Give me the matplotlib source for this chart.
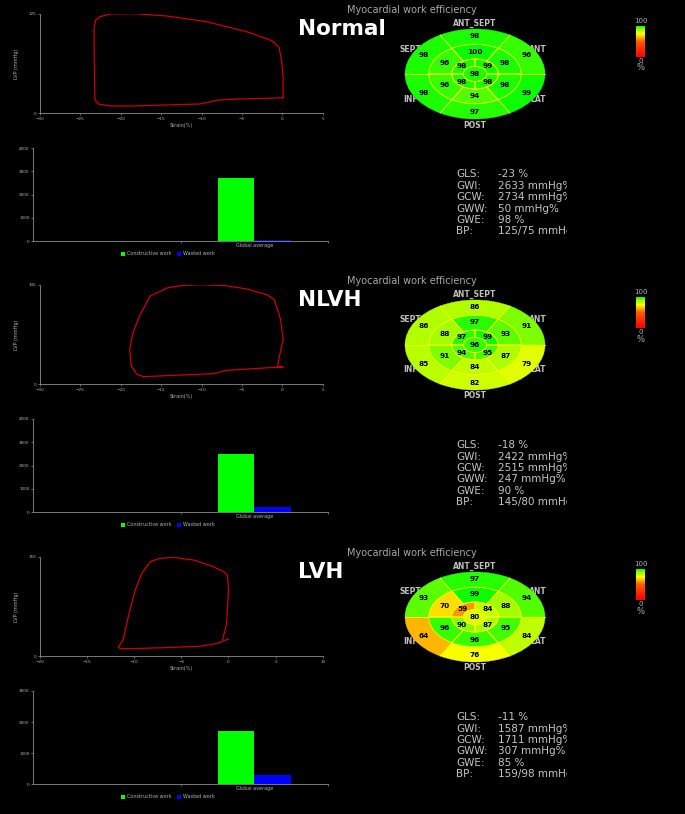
import numpy as np
import matplotlib
matplotlib.use("Agg")
import matplotlib.pyplot as plt
from matplotlib.patches import Wedge, Circle
from matplotlib.colors import LinearSegmentedColormap, Normalize
from matplotlib.cm import ScalarMappable
from matplotlib.transforms import Bbox, TransformedBbox

W, H = 685, 814

groups = ["Normal", "NLVH", "LVH"]

# pressure-strain loops (strain %, LVP mmHg)
normal_strain = [0.1, 0.1, 0.1, -0.1, -0.4, -1.1, -1.7, -4.4, -9.4, -14.3, -18.4, -21.3, -22.6, -23.1,
                 -23.3, -23.3, -23.2, -22.8, -21.3, -18.4, -14.3, -10.2, -9.0, -7.9, -5.2, -1.9, 0.1]
normal_lvp = [19.6, 33.4, 46.0, 66.9, 82.4, 89.9, 92.8, 102.4, 115.0, 122.1, 125.0, 124.6, 121.2, 117.1,
              108.7, 79.4, 16.7, 11.7, 9.2, 9.2, 10.5, 11.7, 14.2, 16.7, 18.0, 18.8, 19.6]
nlvh_strain = [0.1, -0.6, -0.4, 0.1, -0.2, -1.0, -1.9, -4.4, -6.9, -10.2, -12.7, -14.3, -16.4, -17.7,
               -18.5, -18.9, -18.7, -18.0, -17.2, -13.5, -8.5, -6.9, -3.6, 0.1]
nlvh_lvp = [25.6, 24.6, 38.7, 65.2, 94.2, 123.2, 130.5, 138.7, 143.5, 145.0, 143.5, 140.2, 128.1, 99.1,
            74.9, 50.7, 26.6, 14.5, 11.1, 13.0, 15.5, 20.3, 22.7, 25.6]
lvh_strain = [-0.6, -0.2, 0.0, -0.1, -0.5, -1.6, -3.7, -5.9, -7.3, -8.3, -9.2, -9.9, -10.6, -11.2,
              -11.7, -11.5, -10.1, -6.6, -3.0, -1.3, 0.0]
lvh_lvp = [25.2, 49.3, 99.6, 122.3, 127.3, 134.9, 145.0, 149.0, 147.5, 142.4, 124.8, 99.6, 61.9, 24.2,
           14.1, 11.6, 11.6, 13.1, 15.1, 19.1, 26.2]
loop_strain = [normal_strain, nlvh_strain, lvh_strain]
loop_lvp = [normal_lvp, nlvh_lvp, lvh_lvp]
loop_xlim = [(-30, 5), (-30, 5), (-20, 10)]
loop_ymax = [125, 145, 150]

# global constructive / wasted work (mmHg%)
constructive = [2734, 2515, 1711]
wasted = [50, 247, 307]
bar_ymax = [4000, 4000, 3000]

# bullseye work efficiency (%)
# basal/mid order: ANT_SEPT, ANT, LAT, POST, INF, SEPT ; apical: ant-lat, inf-lat, inf-sept, ant-sept
basal = [[98, 96, 99, 97, 98, 98], [86, 91, 79, 82, 85, 86], [97, 94, 84, 76, 64, 93]]
mid = [[100, 98, 98, 94, 96, 96], [97, 93, 87, 84, 91, 88], [99, 88, 95, 96, 96, 70]]
apical = [[99, 98, 98, 98], [99, 95, 94, 97], [84, 87, 90, 59]]
apex = [98, 96, 80]

stat_names = ["GLS:", "GWI:", "GCW:", "GWW:", "GWE:", "BP:"]
stat_values = [
    ["-23 %", "2633 mmHg%", "2734 mmHg%", "50 mmHg%", "98 %", "125/75 mmHg"],
    ["-18 %", "2422 mmHg%", "2515 mmHg%", "247 mmHg%", "90 %", "145/80 mmHg"],
    ["-11 %", "1587 mmHg%", "1711 mmHg%", "307 mmHg%", "85 %", "159/98 mmHg"],
]

offsets = [0, 271, 543]

cmap = LinearSegmentedColormap.from_list(
    "we", [(0.0, (1, 0, 0)), (0.5, (1, 0.35, 0)), (0.75, (1, 1, 0)),
           (0.88, (0.65, 1, 0)), (1.0, (0, 1, 0))])
norm = Normalize(0, 100)

AX = "#8c8c8c"
TXT = "#b4b4b4"


def box(x0, y0, x1, y1):
    return [x0 / W, 1 - y1 / H, (x1 - x0) / W, (y1 - y0) / H]


def ftext(x, y, s, **kw):
    return fig.text(x / W, 1 - y / H, s, **kw)


def style(ax):
    ax.set_facecolor("black")
    for s in ["top", "right"]:
        ax.spines[s].set_visible(False)
    for s in ["left", "bottom"]:
        ax.spines[s].set_color(AX)
        ax.spines[s].set_linewidth(0.6)
    ax.tick_params(colors=AX, labelcolor=TXT, labelsize=3, length=1.5, width=0.5, pad=1)


fig = plt.figure(figsize=(W / 100, H / 100), dpi=100, facecolor="black")
clip = TransformedBbox(Bbox([[0, 0], [567 / W, 1]]), fig.transFigure)

for i, off in enumerate(offsets):
    # loop
    ax = fig.add_axes(box(40, 13.7 + off, 322.7, 113.3 + off))
    style(ax)
    ax.plot(loop_strain[i], loop_lvp[i], color="#cc0000", lw=0.9)
    x0, x1 = loop_xlim[i]
    ax.set_xlim(x0, x1)
    ax.set_ylim(0, loop_ymax[i])
    ax.set_xticks(np.arange(x0, x1 + 1, 5))
    ax.set_yticks([0, loop_ymax[i]])
    ax.set_xlabel("Strain(%)", fontsize=3.5, color=TXT, labelpad=1.5)
    ax.set_ylabel("LVP (mmHg)", fontsize=3.5, color=TXT, labelpad=7)

    # bars
    bx = fig.add_axes(box(33, 148 + off, 328.3, 241.3 + off))
    style(bx)
    bx.bar(1.5 - 0.125, constructive[i], 0.25, color="#00ff00", label="Constructive work")
    bx.bar(1.5 + 0.125, wasted[i], 0.25, color="#0000ff", label="Wasted work")
    bx.set_xlim(0, 2)
    bx.set_ylim(0, bar_ymax[i])
    bx.set_yticks(np.arange(0, bar_ymax[i] + 1, 1000))
    bx.set_xticks([1.5], ["Global average"])
    bx.set_xticks([1, 2], minor=True)
    bx.tick_params(axis="x", which="major", length=0, labelsize=3.5)
    bx.tick_params(axis="x", which="minor", colors=AX, length=1.5, width=0.5)
    bx.legend(loc="center", bbox_to_anchor=(0.457, -0.136), ncol=2, frameon=False, fontsize=3.5,
              labelcolor=TXT, handlelength=0.8, handleheight=0.8, handletextpad=0.4, columnspacing=1.2)

    # titles
    ftext(298, 29 + off, groups[i], color="white", fontsize=15.5, fontweight="bold", va="center")
    ftext(347, 10 + off, "Myocardial work efficiency", color="#a8a8a8", fontsize=7, va="center")

    # bullseye
    ex = fig.add_axes(box(390, 14 + off, 560, 134 + off))
    ex.set_xlim(-85 / 70, 85 / 70)
    ex.set_ylim(-60 / 45, 60 / 45)
    ex.axis("off")
    lab = dict(color="#c0c0c0", fontsize=5.5, fontweight="bold", va="center", zorder=1)
    ex.text(0, 51 / 45, "ANT_SEPT", ha="center", **lab)
    ex.text(0, -51 / 45, "POST", ha="center", **lab)
    ex.text(-76 / 70, 25 / 45, "SEPT", ha="left", **lab)
    ex.text(-72 / 70, -25 / 45, "INF", ha="left", **lab)
    ex.text(54 / 70, 25 / 45, "ANT", ha="left", **lab)
    ex.text(55 / 70, -25 / 45, "LAT", ha="left", **lab)
    num = dict(color="black", fontsize=5.3, fontweight="bold", ha="center", va="center", zorder=5)
    for ring, r_out, r_in, r_txt, step, start in [(basal[i], 1.0, 0.66, 0.85, 60, 90),
                                                 (mid[i], 0.66, 0.333, 0.5, 60, 90),
                                                 (apical[i], 0.333, 0.167, 0.26, 90, 45)]:
        for k, v in enumerate(ring):
            c = start - step * k
            col = cmap(norm(v))
            ex.add_patch(Wedge((0, 0), r_out, c - step / 2, c + step / 2, width=r_out - r_in,
                               facecolor=col, edgecolor=col, lw=0.3, zorder=2))
            ex.text(r_txt * np.cos(np.radians(c)), r_txt * np.sin(np.radians(c)), str(v), **num)
            if r_out < 1:
                ex.add_patch(Wedge((0, 0), r_out, c - step / 2, c + step / 2, width=r_out - r_in,
                                   facecolor="none", edgecolor="#ffff00", lw=0.6, zorder=3))
            else:
                a = np.radians(c - step / 2)
                ex.plot([r_in * np.cos(a), np.cos(a)], [r_in * np.sin(a), np.sin(a)],
                        color="#ffff00", lw=0.6, zorder=3)
    col = cmap(norm(apex[i]))
    ex.add_patch(Circle((0, 0), 0.167, facecolor=col, edgecolor="#ffff00", lw=0.6, zorder=3))
    ex.text(0, 0, str(apex[i]), **num)

    # colour scale
    cax = fig.add_axes(box(636, 26 + off, 645, 57 + off))
    cb = fig.colorbar(ScalarMappable(norm, cmap), cax=cax)
    cb.set_ticks([])
    cb.outline.set_visible(False)
    ftext(640.5, 21 + off, "100", color=TXT, fontsize=5, ha="center", va="center")
    ftext(640.5, 61 + off, "0", color=TXT, fontsize=5, ha="center", va="center")
    ftext(640.5, 68 + off, "%", color=TXT, fontsize=6, ha="center", va="center")

    # global indices
    for k in range(6):
        y = 174.3 + off + 11.4 * k
        ftext(456, y, stat_names[k], color="#c4c4c4", fontsize=7.5, va="center")
        t = ftext(498, y, stat_values[i][k], color="#c4c4c4", fontsize=7.5, va="center")
        t.set_clip_box(clip)
        t.set_clip_on(True)

fig.savefig("out.png", dpi=100, facecolor="black")
